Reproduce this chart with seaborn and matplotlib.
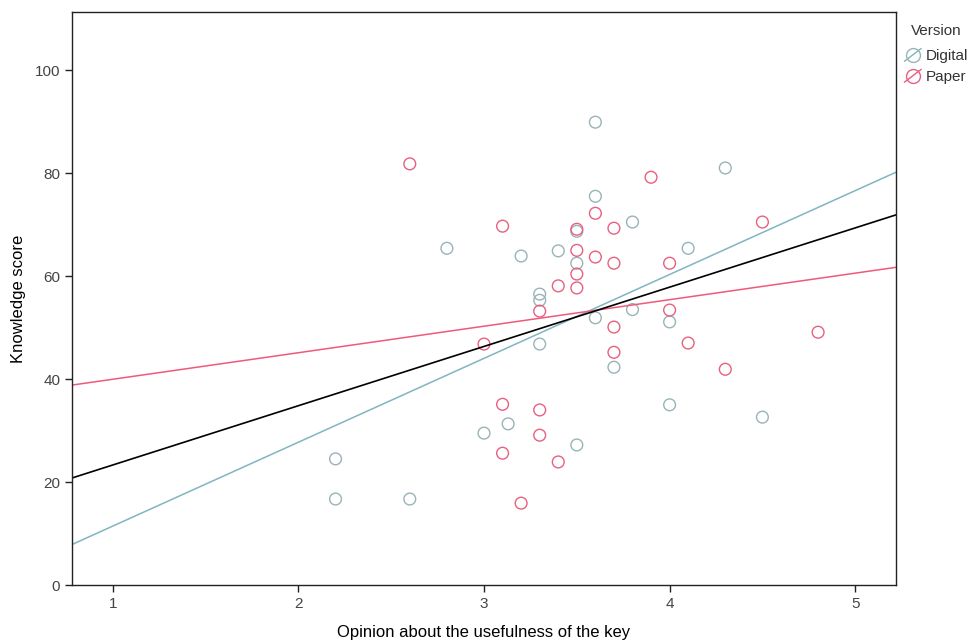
import matplotlib
matplotlib.use("Agg")
import matplotlib.pyplot as plt
import numpy as np
import pandas as pd
import seaborn as sns
from matplotlib.lines import Line2D
from matplotlib.legend_handler import HandlerBase

# Digital version
digital_x = [2.2, 2.2, 2.6, 2.8, 3.0, 3.13, 3.2, 3.3, 3.3, 3.3, 3.4, 3.5, 3.5, 3.5,
             3.6, 3.6, 3.6, 3.7, 3.8, 3.8, 4.0, 4.0, 4.1, 4.3, 4.5]
digital_y = [24.5, 16.7, 16.7, 65.4, 29.5, 31.3, 63.9, 56.5, 55.3, 46.8, 64.9, 62.5, 27.2, 68.7,
             89.9, 75.5, 51.9, 42.3, 70.5, 53.5, 51.1, 35.0, 65.4, 81.0, 32.6]

# Paper version
paper_x = [2.6, 3.9, 3.1, 3.5, 3.6, 3.7, 3.5, 3.6, 3.7, 3.5, 3.4, 3.5, 3.3, 3.0, 3.7, 3.7,
           4.0, 4.0, 4.1, 4.3, 4.5, 4.8, 3.1, 3.3, 3.1, 3.3, 3.4, 3.2]
paper_y = [81.8, 79.2, 69.7, 69.1, 72.2, 69.3, 65.0, 63.7, 62.5, 60.4, 58.1, 57.7, 53.2, 46.8, 50.1, 45.2,
           62.5, 53.4, 47.0, 41.9, 70.5, 49.1, 35.1, 34.0, 25.6, 29.1, 23.9, 15.9]

versions = ["Digital", "Paper"]
x_ticks = [1, 2, 3, 4, 5]
y_ticks = [0, 20, 40, 60, 80, 100]

df = pd.DataFrame({
    "opinion": digital_x + paper_x,
    "score": digital_y + paper_y,
    "version": ["Digital"] * len(digital_x) + ["Paper"] * len(paper_x),
})

marker_cols = {"Digital": "#98b4b7", "Paper": "#e8607f"}
line_cols = {"Digital": "#7fb6c0", "Paper": "#f2587f"}


class DiagHandler(HandlerBase):
    # legend key: circle with a diagonal line through it
    def create_artists(self, legend, orig, xdescent, ydescent, width, height, fontsize, trans):
        x0, y0 = -xdescent, -ydescent
        ln = Line2D([x0, x0 + width], [y0 - 0.1 * height, y0 + 1.1 * height],
                    color=orig.get_color(), lw=1, transform=trans)
        mk = Line2D([x0 + width / 2], [y0 + height / 2], marker="o", linestyle="none",
                    markersize=orig.get_markersize(), markerfacecolor="none",
                    markeredgecolor=orig.get_markeredgecolor(), markeredgewidth=1,
                    transform=trans)
        return [ln, mk]


sns.set_style("white")
plt.rcParams["font.family"] = ["Liberation Sans", "DejaVu Sans"]

fig = plt.figure(figsize=(9.69, 6.44), dpi=100)
ax = fig.add_axes([0.0743, 0.0916, 0.8504, 0.8898])
ax.set_xlim(0.78, 5.22)
ax.set_ylim(0, 111.3)

for v in versions:
    sub = df[df.version == v]
    sns.scatterplot(data=sub, x="opinion", y="score", ax=ax, s=72,
                    facecolors="none", edgecolors=marker_cols[v], linewidth=1.0)
    sns.regplot(data=sub, x="opinion", y="score", ax=ax, scatter=False, ci=None,
                truncate=False, color=line_cols[v], line_kws={"linewidth": 1.1})

sns.regplot(data=df, x="opinion", y="score", ax=ax, scatter=False, ci=None,
            truncate=False, color="black", line_kws={"linewidth": 1.2})

ax.set_xlim(0.78, 5.22)
ax.set_ylim(0, 111.3)
ax.set_xticks(x_ticks)
ax.set_yticks(y_ticks)
ax.tick_params(axis="both", direction="out", length=5, width=1, colors="#222222",
               labelsize=11, labelcolor="#444444", bottom=True, left=True)
for sp in ax.spines.values():
    sp.set_color("#222222")
    sp.set_linewidth(1.0)

ax.set_xlabel("Opinion about the usefulness of the key", fontsize=12, labelpad=10, color="black")
ax.set_ylabel("Knowledge score", fontsize=12, labelpad=6, color="black")

handles = [Line2D([0], [0], color=line_cols[v], marker="o", markersize=10,
                  markerfacecolor="none", markeredgecolor=marker_cols[v], linewidth=1)
           for v in versions]
leg = fig.legend(handles, versions, title="Version", loc="upper left",
                 bbox_to_anchor=(0.927, 0.972), frameon=False, fontsize=11,
                 title_fontsize=11, handlelength=1.1, handletextpad=0.3,
                 labelspacing=0.45, borderaxespad=0,
                 handler_map={Line2D: DiagHandler()})
leg._legend_box.sep = 8
for t in leg.get_texts():
    t.set_color("#333333")
leg.get_title().set_color("#333333")

fig.savefig("out.png", dpi=100)
